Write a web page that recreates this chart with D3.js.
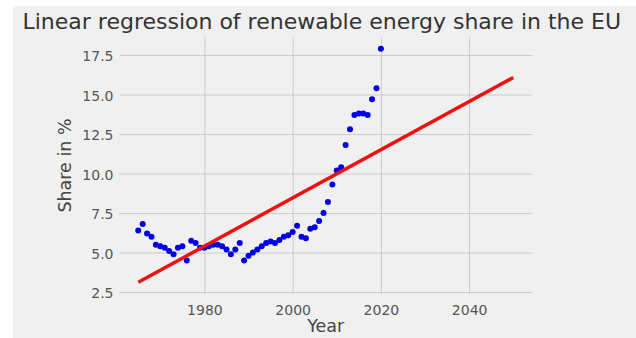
<!DOCTYPE html>
<html>
<head>
<meta charset="utf-8">
<script src="https://cdn.jsdelivr.net/npm/d3@7"></script>
<style>
  html, body { margin: 0; padding: 0; background: #ffffff; }
  svg { display: block; }
  text { font-family: "DejaVu Sans", sans-serif; }
</style>
</head>
<body>
<svg id="chart" width="636" height="338"></svg>
<script>
// Renewable energy share of primary energy in the EU, percent per year
const years = d3.range(1965, 2021);
const shares = [
  6.4, 6.8, 6.2, 6.0, 5.5, 5.4, 5.3, 5.1, 4.9, 5.3,
  5.4, 4.5, 5.75, 5.6, 5.3, 5.3, 5.4, 5.5, 5.5, 5.4,
  5.2, 4.9, 5.2, 5.6, 4.5, 4.8, 5.0, 5.2, 5.4, 5.6,
  5.7, 5.6, 5.8, 6.0, 6.1, 6.3, 6.7, 6.0, 5.9, 6.5,
  6.6, 7.0, 7.5, 8.2, 9.3, 10.2, 10.4, 11.8, 12.8, 13.7,
  13.8, 13.8, 13.7, 14.7, 15.4, 17.9
];
// Years over which the fitted trend is drawn
const fitYears = [1965, 2050];
const xTicks = [1980, 2000, 2020, 2040];
const yTicks = [2.5, 5.0, 7.5, 10.0, 12.5, 15.0, 17.5];

// Ordinary least squares fit of share against year
const xMean = d3.mean(years), yMean = d3.mean(shares);
const slope = d3.sum(years, (x, i) => (x - xMean) * (shares[i] - yMean)) /
              d3.sum(years, x => (x - xMean) ** 2);
const intercept = yMean - slope * xMean;
const fitValues = fitYears.map(x => intercept + slope * x);

// Autoscaled limits with a 5% margin on each side
function padded(lo, hi) { const m = (hi - lo) * 0.05; return [lo - m, hi + m]; }
const xDom = padded(d3.min([...years, ...fitYears]), d3.max([...years, ...fitYears]));
const yDom = padded(d3.min([...shares, ...fitValues]), d3.max([...shares, ...fitValues]));

const svg = d3.select("#chart");
const W = 636, H = 338;
const plot = { left: 119.5, right: 532, top: 37, bottom: 294 };

// figure background
svg.append("rect").attr("x", 13).attr("y", 6).attr("width", W - 13).attr("height", H - 6)
  .attr("fill", "#f0f0f0");

const x = d3.scaleLinear().domain(xDom).range([plot.left, plot.right]);
const y = d3.scaleLinear().domain(yDom).range([plot.bottom, plot.top]);

// grid + tick labels through d3 axes
const gx = svg.append("g").attr("transform", `translate(0,${plot.bottom})`)
  .call(d3.axisBottom(x).tickValues(xTicks).tickFormat(d3.format("d"))
    .tickSize(-(plot.bottom - plot.top)).tickPadding(0));
const gy = svg.append("g").attr("transform", `translate(${plot.left},0)`)
  .call(d3.axisLeft(y).tickValues(yTicks).tickFormat(d3.format(".1f"))
    .tickSize(-(plot.right - plot.left)).tickPadding(0));

[gx, gy].forEach(g => {
  g.select(".domain").remove();
  g.selectAll(".tick line").attr("stroke", "#cbcbcb").attr("stroke-width", 1);
  g.selectAll(".tick text").attr("fill", "#555555").attr("font-size", 14)
    .attr("font-family", "DejaVu Sans, sans-serif");
});
gx.selectAll(".tick text").attr("y", 11).attr("dy", "0.71em");
gy.selectAll(".tick text").attr("x", -6).attr("dy", "0.4em");

// observed shares
svg.append("g").selectAll("circle").data(years).join("circle")
  .attr("cx", d => x(d))
  .attr("cy", (d, i) => y(shares[i]))
  .attr("r", 3)
  .attr("fill", "#0000e6");

// fitted trend
svg.append("path")
  .datum(fitYears.map((d, i) => [d, fitValues[i]]))
  .attr("d", d3.line().x(d => x(d[0])).y(d => y(d[1])))
  .attr("fill", "none")
  .attr("stroke", "#ee1111")
  .attr("stroke-width", 3.5);

// labels
svg.append("text").attr("x", (plot.left + plot.right) / 2 - 4).attr("y", 29)
  .attr("text-anchor", "middle").attr("font-size", 22).attr("fill", "#333333")
  .text("Linear regression of renewable energy share in the EU");
svg.append("text").attr("x", (plot.left + plot.right) / 2).attr("y", 332)
  .attr("text-anchor", "middle").attr("font-size", 17.5).attr("fill", "#444444")
  .text("Year");
svg.append("text")
  .attr("transform", `translate(71,${(plot.top + plot.bottom) / 2}) rotate(-90)`)
  .attr("text-anchor", "middle").attr("font-size", 17.5).attr("fill", "#444444")
  .text("Share in %");
</script>
</body>
</html>
